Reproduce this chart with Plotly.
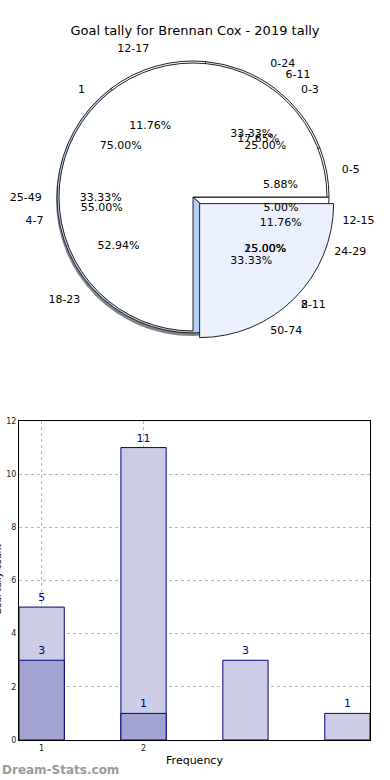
import plotly.graph_objects as go

title_text = "Goal tally for Brennan Cox - 2019 tally"

# ---- pie data (four overlaid pies) ----
age_labels = ["0-5", "6-11", "12-17", "18-23", "24-29"]
age_values = [1, 3, 2, 9, 2]
quarter_labels = ["0-3", "4-7", "8-11", "12-15"]
quarter_values = [5, 11, 3, 1]
count_labels = ["1", "2"]
count_values = [3, 1]
range_labels = ["0-24", "25-49", "50-74"]
range_values = [1, 1, 1]

# ---- bar data ----
bar_x = [1, 2, 3, 4]
freq_all = [5, 11, 3, 1]
sub_x = [1, 2]
freq_sub = [3, 1]
x_ticks = [1, 2]
y_ticks = [0, 2, 4, 6, 8, 10, 12]

W, H = 390, 780
CX, CY = 193, 197
R = 134
PULL = 0.07
FONT = "DejaVu Sans"


def dom(r, dx=0, dy=0):
    cx, cy = CX + dx, CY + dy
    return dict(x=[(cx - r) / W, (cx + r) / W], y=[1 - (cy + r) / H, 1 - (cy - r) / H])


# Slices are passed in reverse and drawn clockwise from 3 o'clock, which
# reproduces a counter-clockwise layout starting at 3 o'clock.
common = dict(sort=False, direction="clockwise", rotation=90,
              hoverinfo="skip", showlegend=False)
clear = "rgba(0,0,0,0)"


def rev(seq):
    return list(seq)[::-1]


fig = go.Figure()

# shadow
fig.add_trace(go.Pie(values=[1], labels=["s"], domain=dom(R + 2, -1, 3),
                     marker=dict(colors=["rgba(50,50,50,0.6)"], line=dict(width=0)),
                     textinfo="none", **common))
# lower pie (rim)
fig.add_trace(go.Pie(values=rev(age_values), labels=rev(age_labels), domain=dom(R + 2),
                     marker=dict(colors=rev(["#ffffff", "#e8effc", "#ffffff", "#b5cff5", "#ffffff"]),
                                 line=dict(color="#222222", width=1)),
                     textinfo="none", **common))
# top pie with exploded slice
fig.add_trace(go.Pie(values=rev(count_values), labels=rev(count_labels), domain=dom(R * (1 + PULL)),
                     pull=rev([0, PULL]),
                     marker=dict(colors=rev(["#ffffff", "#eaf0fd"]),
                                 line=dict(color="#222222", width=1)),
                     textinfo="none", **common))

series = [(range_labels, range_values), (age_labels, age_values),
          (quarter_labels, quarter_values), (count_labels, count_values)]

# percentage texts
RP = 68
for labs, vals in series:
    fig.add_trace(go.Pie(values=rev(vals), labels=rev(labs), domain=dom(RP),
                         marker=dict(colors=[clear] * len(vals), line=dict(width=0)),
                         textinfo="text", texttemplate="%{percent:.2%}",
                         textposition="outside",
                         outsidetextfont=dict(family=FONT, size=11, color="#000000"),
                         **common))

# outer labels
RL = 148
for labs, vals in series:
    fig.add_trace(go.Pie(values=rev(vals), labels=rev(labs), domain=dom(RL),
                         marker=dict(colors=[clear] * len(vals), line=dict(width=0)),
                         textinfo="label", textposition="outside",
                         outsidetextfont=dict(family=FONT, size=11, color="#000000"),
                         **common))

# bars
navy = "#000080"
fig.add_trace(go.Bar(x=bar_x, y=freq_all, width=0.444,
                     marker=dict(color="#ccccE6", line=dict(color=navy, width=1)),
                     text=freq_all, textposition="outside",
                     textfont=dict(family=FONT, size=11, color=navy),
                     cliponaxis=False, hoverinfo="skip", showlegend=False))
fig.add_trace(go.Bar(x=sub_x, y=freq_sub, width=0.444,
                     marker=dict(color="#a3a3d1", line=dict(color=navy, width=1)),
                     text=freq_sub, textposition="outside",
                     textfont=dict(family=FONT, size=11, color=navy),
                     cliponaxis=False, hoverinfo="skip", showlegend=False))

fig.update_layout(
    width=W, height=H,
    margin=dict(l=0, r=0, t=0, b=0, autoexpand=False),
    paper_bgcolor="white", plot_bgcolor="white",
    barmode="overlay",
    font=dict(family=FONT, color="#000000"),
    title=dict(text=title_text, x=0.5, xanchor="center", y=1 - 30 / H, yanchor="middle",
               font=dict(family=FONT, size=13, color="#000000")),
    xaxis=dict(domain=[19 / W, 370 / W], range=[0.778, 4.222], automargin=False,
               tickvals=x_ticks, ticktext=[str(t) for t in x_ticks],
               tickfont=dict(size=8, color="#222222"),
               showgrid=True, gridcolor="#b8b8b8", griddash="dot", gridwidth=1,
               showline=True, linecolor="#000000", linewidth=1, mirror=True,
               ticks="", zeroline=False,
               title=dict(text="Frequency", font=dict(size=11, color="#000000"), standoff=4)),
    yaxis=dict(domain=[40 / H, 359 / H], range=[0, 12], tickvals=y_ticks, automargin=False,
               tickfont=dict(size=8, color="#222222"),
               showgrid=True, gridcolor="#b8b8b8", griddash="dot", gridwidth=1,
               showline=True, linecolor="#000000", linewidth=1, mirror=True,
               ticks="", zeroline=False),
    annotations=[
        dict(text="Goal tally count", x=-2 / W, y=1 - 580 / H, xref="paper", yref="paper",
             xanchor="center", yanchor="middle", textangle=-90, showarrow=False,
             font=dict(family=FONT, size=9, color="#000000")),
        dict(text="<b>Dream-Stats.com</b>", x=0, y=10 / H, xref="paper", yref="paper",
             xanchor="left", yanchor="middle", showarrow=False,
             font=dict(family=FONT, size=12, color="#9a9a9a")),
    ],
)

fig.write_html("out.html", config={"displayModeBar": False},
               post_script="document.body.style.margin='0';document.body.style.padding='0';")
